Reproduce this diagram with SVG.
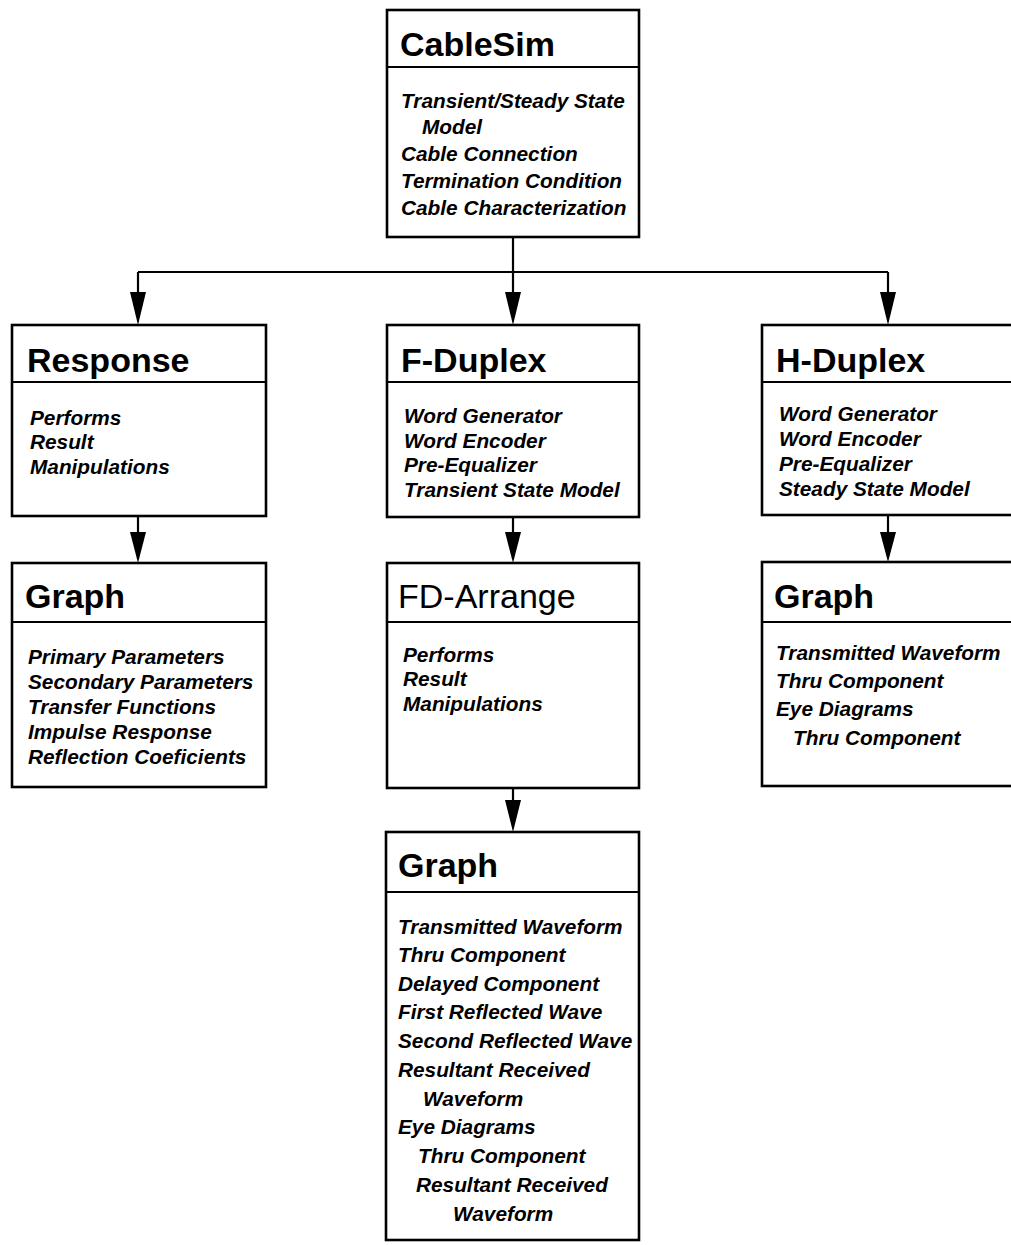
<svg xmlns="http://www.w3.org/2000/svg" width="1011" height="1245" viewBox="0 0 1011 1245">
<defs>
<style>
.box{fill:#fff;stroke:#000;stroke-width:2.6}
.div{stroke:#000;stroke-width:2.2}
.t{font-family:"Liberation Sans",Arial,sans-serif;font-weight:bold;font-size:34px;fill:#000}
.tr{font-family:"Liberation Sans",Arial,sans-serif;font-weight:normal;font-size:34px;fill:#000}
.b{font-family:"Liberation Sans",Arial,sans-serif;font-weight:bold;font-style:italic;font-size:20.8px;fill:#000}
.c{fill:none;stroke:#000;stroke-width:2.2}
</style>
</defs>
<rect width="1011" height="1245" fill="#fff"/>

<g id="connectors">
<path class="c" d="M513,237 V272"/>
<path class="c" d="M138,272 H888"/>
<path class="c" d="M138,272 V292"/>
<path d="M130,292 L146,292 L138,325 Z" fill="#000"/>
<path class="c" d="M513,272 V292"/>
<path d="M505,292 L521,292 L513,325 Z" fill="#000"/>
<path class="c" d="M888,272 V292"/>
<path d="M880,292 L896,292 L888,325 Z" fill="#000"/>
<path class="c" d="M138,516 V532"/>
<path d="M130,532 L146,532 L138,563 Z" fill="#000"/>
<path class="c" d="M513,517 V532"/>
<path d="M505,532 L521,532 L513,563 Z" fill="#000"/>
<path class="c" d="M888,515 V532"/>
<path d="M880,532 L896,532 L888,562 Z" fill="#000"/>
<path class="c" d="M513,788 V800"/>
<path d="M505,800 L521,800 L513,832 Z" fill="#000"/>
</g>

<g id="cablesim">
<rect class="box" x="387" y="10" width="252" height="227"/>
<line class="div" x1="387" y1="67" x2="639" y2="67"/>
<text class="t" x="400" y="56">CableSim</text>
<text class="b" x="401" y="108">Transient/Steady State</text>
<text class="b" x="422" y="134">Model</text>
<text class="b" x="401" y="161">Cable Connection</text>
<text class="b" x="401" y="188">Termination Condition</text>
<text class="b" x="401" y="215">Cable Characterization</text>
</g>

<g id="response">
<rect class="box" x="12" y="325" width="254" height="191"/>
<line class="div" x1="12" y1="382" x2="266" y2="382"/>
<text class="t" x="27" y="372">Response</text>
<text class="b" x="30" y="425">Performs</text>
<text class="b" x="30" y="449">Result</text>
<text class="b" x="30" y="474">Manipulations</text>
</g>

<g id="fduplex">
<rect class="box" x="387" y="325" width="252" height="192"/>
<line class="div" x1="387" y1="382" x2="639" y2="382"/>
<text class="t" x="401" y="372">F-Duplex</text>
<text class="b" x="404" y="423">Word Generator</text>
<text class="b" x="404" y="448">Word Encoder</text>
<text class="b" x="404" y="472">Pre-Equalizer</text>
<text class="b" x="404" y="497">Transient State Model</text>
</g>

<g id="hduplex">
<rect class="box" x="762" y="325" width="262" height="190"/>
<line class="div" x1="762" y1="382" x2="1011" y2="382"/>
<text class="t" x="776" y="372">H-Duplex</text>
<text class="b" x="779" y="421">Word Generator</text>
<text class="b" x="779" y="446">Word Encoder</text>
<text class="b" x="779" y="471">Pre-Equalizer</text>
<text class="b" x="779" y="496">Steady State Model</text>
</g>

<g id="graph-left">
<rect class="box" x="12" y="563" width="254" height="224"/>
<line class="div" x1="12" y1="622" x2="266" y2="622"/>
<text class="t" x="25" y="608">Graph</text>
<text class="b" x="28" y="664">Primary Parameters</text>
<text class="b" x="28" y="689">Secondary Parameters</text>
<text class="b" x="28" y="714">Transfer Functions</text>
<text class="b" x="28" y="739">Impulse Response</text>
<text class="b" x="28" y="764">Reflection Coeficients</text>
</g>

<g id="fd-arrange">
<rect class="box" x="387" y="563" width="252" height="225"/>
<line class="div" x1="387" y1="622" x2="639" y2="622"/>
<text class="tr" x="398" y="608">FD-Arrange</text>
<text class="b" x="403" y="662">Performs</text>
<text class="b" x="403" y="686">Result</text>
<text class="b" x="403" y="711">Manipulations</text>
</g>

<g id="graph-right">
<rect class="box" x="762" y="562" width="262" height="224"/>
<line class="div" x1="762" y1="622" x2="1011" y2="622"/>
<text class="t" x="774" y="608">Graph</text>
<text class="b" x="776" y="660">Transmitted Waveform</text>
<text class="b" x="776" y="688">Thru Component</text>
<text class="b" x="776" y="716">Eye Diagrams</text>
<text class="b" x="793" y="745">Thru Component</text>
</g>

<g id="graph-center">
<rect class="box" x="386" y="832" width="253" height="408"/>
<line class="div" x1="386" y1="892" x2="639" y2="892"/>
<text class="t" x="398" y="877">Graph</text>
<text class="b" x="398" y="934">Transmitted Waveform</text>
<text class="b" x="398" y="962">Thru Component</text>
<text class="b" x="398" y="991">Delayed Component</text>
<text class="b" x="398" y="1019">First Reflected Wave</text>
<text class="b" x="398" y="1048">Second Reflected Wave</text>
<text class="b" x="398" y="1077">Resultant Received</text>
<text class="b" x="423" y="1106">Waveform</text>
<text class="b" x="398" y="1134">Eye Diagrams</text>
<text class="b" x="418" y="1163">Thru Component</text>
<text class="b" x="416" y="1192">Resultant Received</text>
<text class="b" x="453" y="1221">Waveform</text>
</g>
</svg>
